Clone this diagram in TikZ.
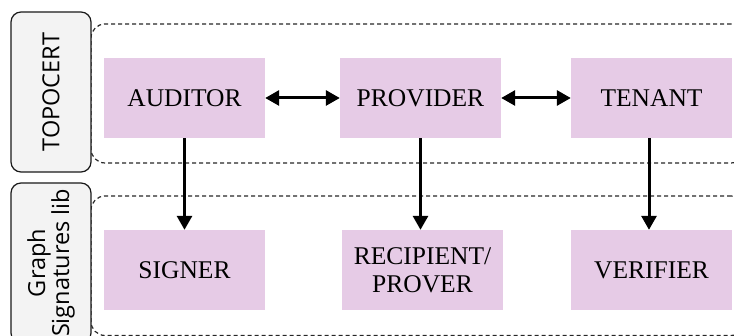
\documentclass[tikz,border=0pt]{standalone}
\usepackage{fontspec}
\setmainfont{Liberation Serif}
\newfontfamily\labfont{Open Sans}
\usetikzlibrary{arrows.meta}
\definecolor{boxpink}{HTML}{E6CBE6}
\definecolor{labgray}{HTML}{F3F3F3}
\begin{document}
\begin{tikzpicture}[x=1pt,y=-1pt,
  role/.style={fill=boxpink, minimum width=161pt, minimum height=80pt, inner sep=0pt, align=center, font=\fontsize{25.5}{28}\selectfont},
  layer/.style={draw=black!85, dash pattern=on 4pt off 3pt, line width=1.2pt, rounded corners=14pt, minimum width=654pt, inner sep=0pt},
  tag/.style={draw=black!90, fill=labgray, rounded corners=10pt, line width=1.2pt, minimum width=160pt, minimum height=80pt, inner sep=0pt, align=center, font=\labfont\fontsize{23.5}{24}\selectfont, rotate=90},
  link/.style={line width=3pt, -{Triangle[length=14pt,width=15pt]}},
  both/.style={line width=3pt, {Triangle[length=14pt,width=15pt]}-{Triangle[length=14pt,width=15pt]}}]
\useasboundingbox (0,0) rectangle (734,336);
\clip (0,0) rectangle (734,336);
% layers
\node[layer, minimum height=139pt] (toplayer) at (418,93.5) {};
\node[layer, minimum height=139.5pt] (botlayer) at (418,265.75) {};
% tags
\node[tag] (tagtop) at (51,92) {TOPOCERT};
\node[tag] (tagbot) at (51,263) {Graph\\Signatures lib};
% roles
\node[role] (auditor) at (184.5,98) {AUDITOR};
\node[role] (provider) at (420.5,98) {PROVIDER};
\node[role] (tenant) at (651.5,98) {TENANT};
\node[role] (signer) at (184.5,270) {SIGNER};
\node[role] (recip) at (422.5,270) {RECIPIENT/\\PROVER};
\node[role] (verifier) at (651.5,270) {VERIFIER};
% connectors
\draw[both] (auditor.east) -- (provider.west);
\draw[both] (provider.east) -- (tenant.west);
\draw[link] (auditor.south) -- (signer.north);
\draw[link] (provider.south) -- (provider.south |- recip.north);
\draw[link] ([xshift=-2.5pt]tenant.south) -- ([xshift=-2.5pt]tenant.south |- verifier.north);
\end{tikzpicture}
\end{document}
